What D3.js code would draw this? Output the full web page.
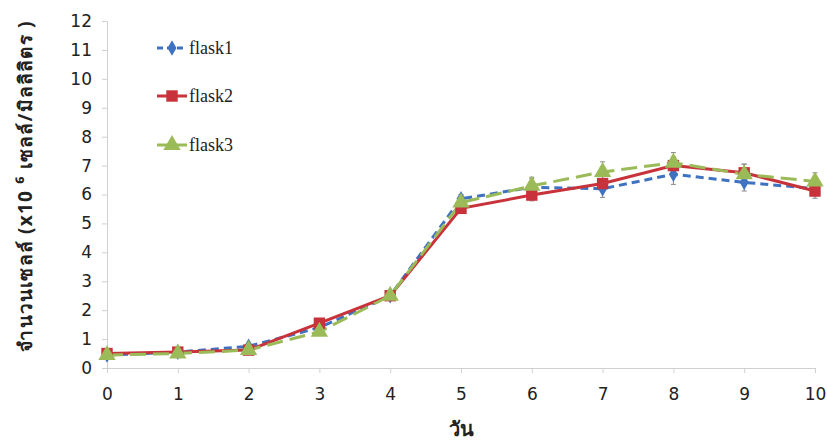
<!DOCTYPE html>
<html><head><meta charset="utf-8">
<script src="https://cdn.jsdelivr.net/npm/d3@7"></script>
<style>body{margin:0;background:#fff}</style>
</head><body>
<svg id="c" width="827" height="442"></svg>
<script>
const days = [0,1,2,3,4,5,6,7,8,9,10];
const flask1 = [0.45,0.55,0.75,1.4,2.5,5.85,6.25,6.2,6.7,6.42,6.2];
const flask2 = [0.5,0.55,0.62,1.55,2.5,5.52,5.98,6.38,7.0,6.75,6.12];
const flask3 = [0.45,0.5,0.62,1.25,2.5,5.72,6.3,6.78,7.1,6.7,6.45];
const err1 = [0.05,0.05,0.08,0.1,0.1,0.15,0.3,0.3,0.35,0.3,0.25];
const err2 = [0.05,0.05,0.06,0.1,0.1,0.15,0.2,0.25,0.3,0.3,0.25];
const err3 = [0.05,0.05,0.06,0.1,0.1,0.15,0.3,0.35,0.35,0.35,0.3];
const yTicks = [0,1,2,3,4,5,6,7,8,9,10,11,12];
const seriesNames = ["flask1","flask2","flask3"];
const colors = ["#3f72c0","#c8323a","#9bbb59"];

const svg = d3.select("#c");
const x = d3.scaleLinear().domain([0,10]).range([107,815]);
const y = d3.scaleLinear().domain([0,12]).range([368,21]);

// axes
const xAxis = svg.append("g").attr("transform","translate(0,368)")
  .call(d3.axisBottom(x).tickValues(days).tickSize(5).tickPadding(15).tickFormat(d3.format("d")));
const yAxis = svg.append("g").attr("transform","translate(107,0)")
  .call(d3.axisLeft(y).tickValues(yTicks).tickSize(5).tickPadding(10).tickFormat(d3.format("d")));
[xAxis,yAxis].forEach(a=>{
  a.selectAll("path").attr("stroke","#d0d0d0");
  a.selectAll("line").attr("stroke","#d0d0d0");
  a.selectAll("text").attr("font-family","Tahoma, 'DejaVu Sans', sans-serif").attr("font-size",17).attr("fill","#222");
});

const sets = [flask1,flask2,flask3];
const errs = [err1,err2,err3];
const dashes = ["8,5", null, "16,7"];

sets.forEach((vals,i)=>{
  const g = svg.append("g");
  days.forEach((d,j)=>{
    const e = errs[i][j];
    g.append("line").attr("x1",x(d)).attr("x2",x(d)).attr("y1",y(vals[j]-e)).attr("y2",y(vals[j]+e))
      .attr("stroke","#888").attr("stroke-width",1);
    [vals[j]-e, vals[j]+e].forEach(v=>g.append("line").attr("x1",x(d)-2.5).attr("x2",x(d)+2.5)
      .attr("y1",y(v)).attr("y2",y(v)).attr("stroke","#888").attr("stroke-width",1));
  });
  const line = d3.line().x((v,j)=>x(days[j])).y(v=>y(v));
  g.append("path").datum(vals).attr("d",line).attr("fill","none")
    .attr("stroke",colors[i]).attr("stroke-width",3).attr("stroke-dasharray",dashes[i]);
});

const symTypes = [d3.symbolDiamond, d3.symbolSquare, d3.symbolTriangle];
const symSizes = [70, 130, 130];
sets.forEach((vals,i)=>{
  svg.append("g").selectAll("path").data(vals).join("path")
    .attr("d", d3.symbol().type(symTypes[i]).size(symSizes[i]))
    .attr("transform",(v,j)=>`translate(${x(days[j])},${y(v)})`)
    .attr("fill",colors[i]);
});

// legend
const legY = [48,96,145];
seriesNames.forEach((n,i)=>{
  const g = svg.append("g");
  g.append("line").attr("x1",157).attr("x2",187).attr("y1",legY[i]).attr("y2",legY[i])
    .attr("stroke",colors[i]).attr("stroke-width",3).attr("stroke-dasharray", i===0?"6,4":null);
  g.append("path").attr("d",d3.symbol().type(symTypes[i]).size(symSizes[i])())
    .attr("transform",`translate(172,${legY[i]})`).attr("fill",colors[i]);
  g.append("text").attr("x",189).attr("y",legY[i]+6).text(n)
    .attr("font-family","'Liberation Serif','Times New Roman',serif").attr("font-size",18).attr("fill","#222");
});

// axis titles
svg.append("text").attr("x",461).attr("y",436).attr("text-anchor","middle")
  .attr("font-family","'Noto Sans','DejaVu Sans',sans-serif").attr("font-weight","bold").attr("font-size",20).attr("fill","#222").text("วัน");
svg.append("text").attr("transform","translate(32,186) rotate(-90)").attr("text-anchor","middle")
  .attr("font-family","'Noto Sans','DejaVu Sans',sans-serif").attr("font-weight","bold").attr("font-size",19)
  .attr("letter-spacing",1.2).attr("fill","#222")
  .text("จำนวนเซลล์ (x10 ⁶ เซลล์/มิลลิลิตร )");
</script>
</body></html>
